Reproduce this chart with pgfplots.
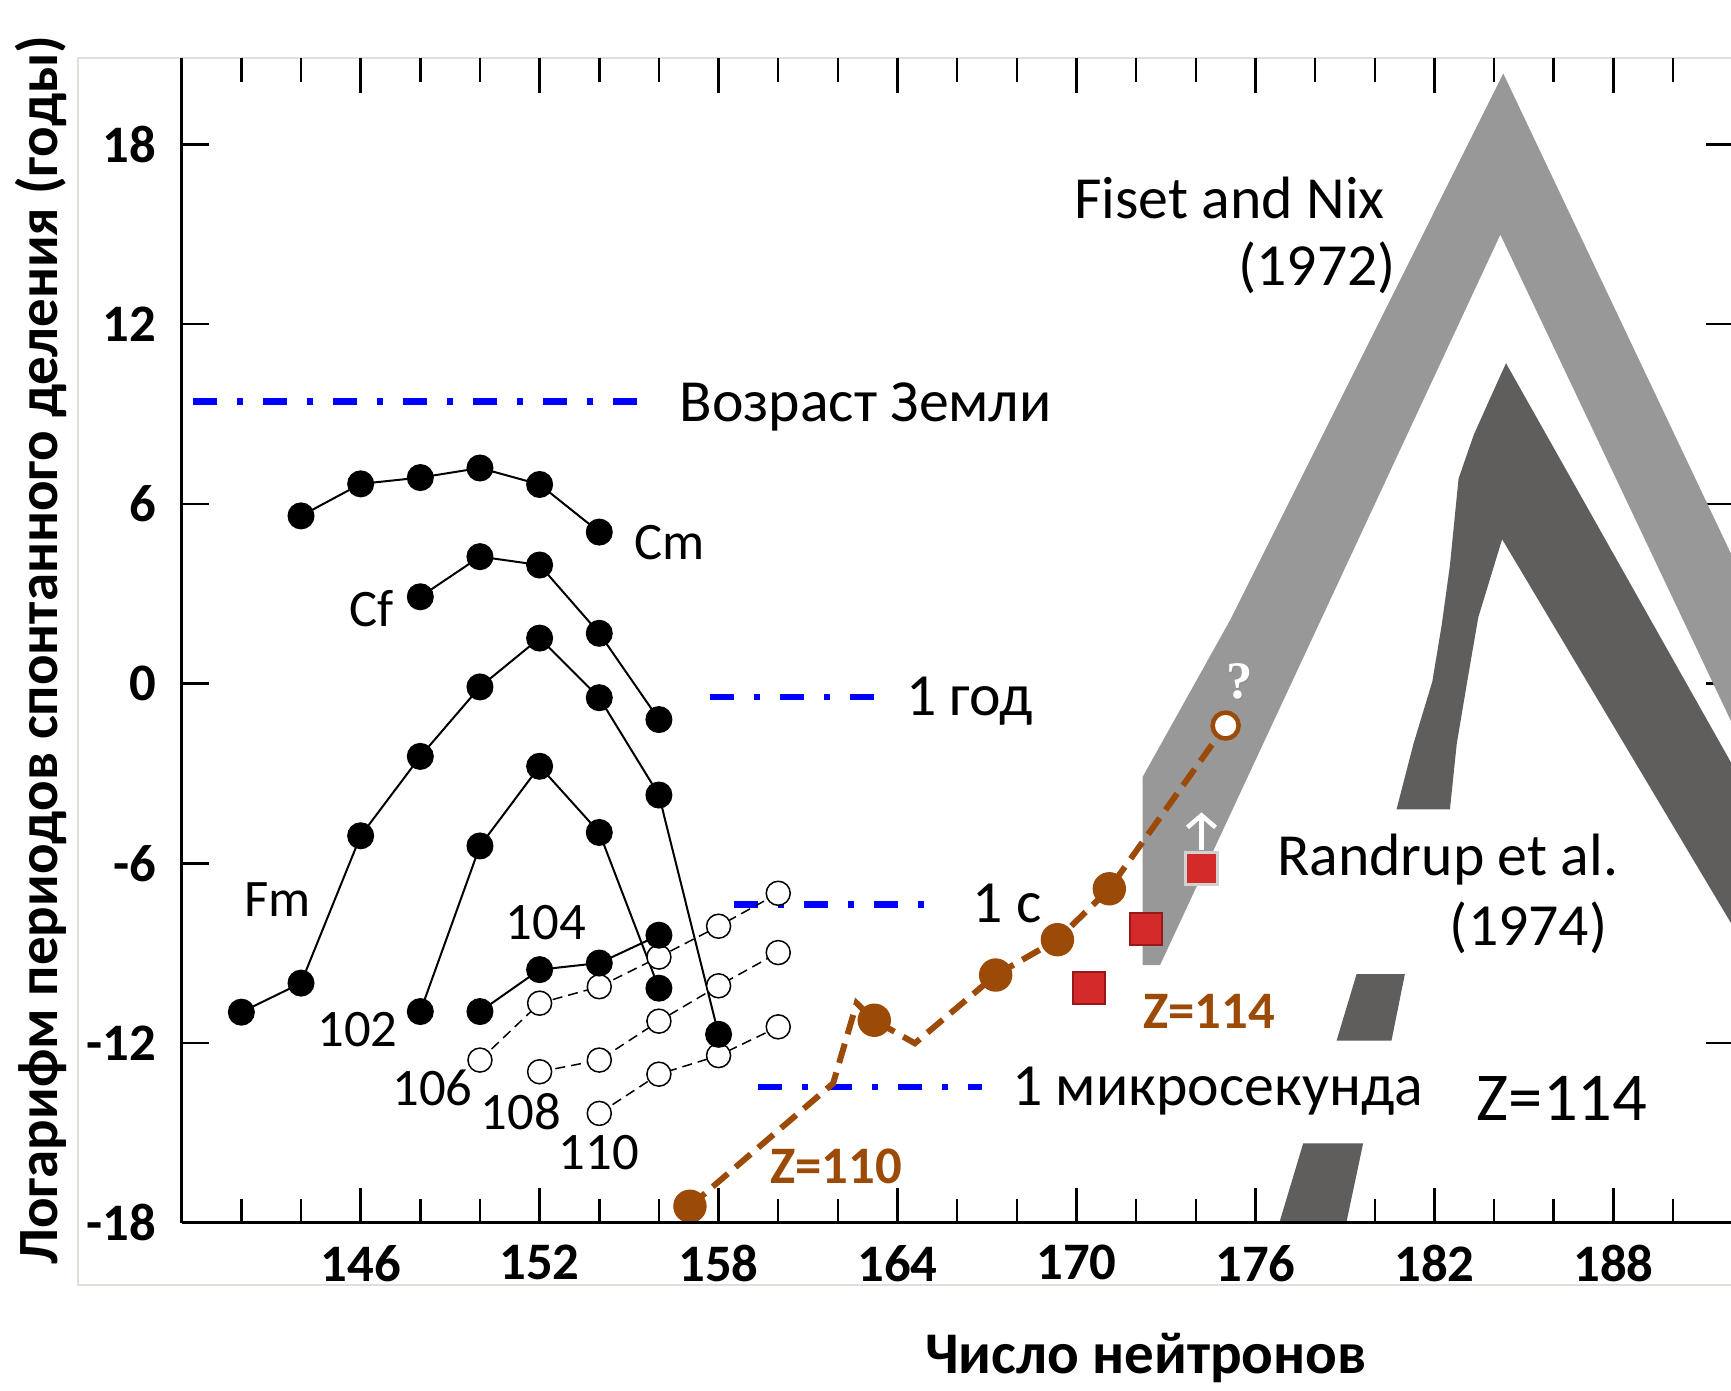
\documentclass[border=0pt]{standalone}
\usepackage{pgfplots}
\pgfplotsset{compat=1.18}
\usepackage{fontspec}
\setmainfont{Carlito}
\newfontfamily\qfont{Liberation Serif}
\usetikzlibrary{arrows.meta}
\definecolor{bandlight}{RGB}{152,152,152}
\definecolor{banddark}{RGB}{96,93,93}
\definecolor{brn}{RGB}{156,74,8}
\definecolor{sqred}{RGB}{212,42,42}
\definecolor{sqedge}{RGB}{150,25,25}
\definecolor{framec}{RGB}{226,224,214}
\newcommand{\fs}[1]{\fontsize{#1}{#1}\selectfont}
\begin{document}
\begin{tikzpicture}
\useasboundingbox (0,0) rectangle (17.31,13.90);
\draw[framec, line width=0.25mm] (0.78,1.05) rectangle (17.6,13.32);
\begin{axis}[
  at={(1.817cm,1.673cm)}, anchor=south west,
  scale only axis, width=15.51cm, height=11.65cm,
  xmin=140, xmax=192, ymin=-18, ymax=20.9,
  axis line style={draw=none},
  xtick={146,152,158,164,170,176,182,188},
  xticklabels={146,152,158,164,170,176,182,188},
  minor xtick={140,142,...,192},
  ytick=\empty,
  minor ytick={-15,-9,-3,3,9,15},
  extra y ticks={-18,-12,-6,0,6,12,18},
  extra y tick labels={-18,-12,-6,0,6,12,18},
  extra y tick style={major tick length=2.7mm},
  major tick length=3.5mm, minor tick length=2.4mm,
  tick style={black, line width=0.25mm},
  tick label style={font=\fs{15pt}\bfseries},
  xticklabel style={yshift=-1mm},
  yticklabel style={xshift=-1.3mm},
]
% Fiset and Nix band
\addplot[fill=bandlight, draw=none, forget plot] coordinates {(172.22,-3.11) (175.15,2.12) (184.31,20.37) (193,2.12) (193,-3.47) (184.21,14.99) (172.8,-9.4) (172.22,-9.4)};
% Randrup band
\addplot[fill=banddark, draw=none, forget plot] coordinates {(180.73,-4.2) (181.3,-2.0) (181.93,0.07) (182.25,2.0) (182.52,3.95) (182.81,6.85) (183.32,8.31) (183.9,9.6) (184.4,10.7) (193,-4.5) (193,-9.76) (184.27,4.82) (183.47,2.21) (183.1,0.07) (182.75,-2.0) (182.52,-4.2)};
\addplot[fill=banddark, draw=none, forget plot] coordinates {(179.39,-9.7) (181.01,-9.7) (180.56,-11.92) (178.72,-11.92)};
\addplot[fill=banddark, draw=none, forget plot] coordinates {(177.6,-15.35) (179.61,-15.35) (178.94,-18.5) (176.65,-18.5)};
% blue reference lines
\addplot[blue, line width=0.67mm, dash pattern=on 2.4mm off 2mm on 0.6mm off 2mm] coordinates {(140.38,9.42) (155.56,9.42)};
\addplot[blue, line width=0.67mm, dash pattern=on 2.4mm off 2mm on 0.6mm off 2mm] coordinates {(157.7,-0.45) (163.4,-0.45)};
\addplot[blue, line width=0.67mm, dash pattern=on 2.4mm off 2mm on 0.6mm off 2mm] coordinates {(158.52,-7.38) (165.29,-7.38)};
\addplot[blue, line width=0.67mm, dash pattern=on 2.4mm off 2mm on 0.6mm off 2mm] coordinates {(159.33,-13.47) (166.82,-13.47)};
% open-circle series (dashed)
\addplot[black, line width=0.15mm, dash pattern=on 1mm off 0.6mm, mark=*, mark size=1.2mm, mark options={solid, fill=white, draw=black, line width=0.15mm}] coordinates {(150,-12.57) (152,-10.67) (154,-10.12) (156,-9.13) (158,-8.1) (160,-7.0)};
\addplot[black, line width=0.15mm, dash pattern=on 1mm off 0.6mm, mark=*, mark size=1.2mm, mark options={solid, fill=white, draw=black, line width=0.15mm}] coordinates {(152,-12.96) (154,-12.57) (156,-11.27) (158,-10.09) (160,-8.98)};
\addplot[black, line width=0.15mm, dash pattern=on 1mm off 0.6mm, mark=*, mark size=1.2mm, mark options={solid, fill=white, draw=black, line width=0.15mm}] coordinates {(154,-14.35) (156,-13.04) (158,-12.42) (160,-11.46)};
% filled series
\addplot[black, line width=0.2mm, mark=*, mark size=1.25mm, mark options={fill=black}] coordinates {(144,5.6) (146,6.67) (148,6.88) (150,7.2) (152,6.65) (154,5.06)};
\addplot[black, line width=0.2mm, mark=*, mark size=1.25mm, mark options={fill=black}] coordinates {(148,2.9) (150,4.24) (152,3.96) (154,1.68) (156,-1.2)};
\addplot[black, line width=0.2mm, mark=*, mark size=1.25mm, mark options={fill=black}] coordinates {(142,-10.97) (144,-10.0) (146,-5.08) (148,-2.43) (150,-0.11) (152,1.52) (154,-0.47) (156,-3.72) (158,-11.71)};
\addplot[black, line width=0.2mm, mark=*, mark size=1.25mm, mark options={fill=black}] coordinates {(148,-10.95) (150,-5.42) (152,-2.76) (154,-4.97) (156,-10.17)};
\addplot[black, line width=0.2mm, mark=*, mark size=1.25mm, mark options={fill=black}] coordinates {(150,-10.95) (152,-9.55) (154,-9.33) (156,-8.4)};
% Z=110 / Z=114 experimental line
\addplot[brn, line width=0.6mm, dash pattern=on 2mm off 1mm] coordinates {(157.04,-17.45) (161.84,-13.35) (162.63,-10.67) (163.22,-11.24) (164.58,-12.01) (167.29,-9.73) (169.36,-8.55) (171.1,-6.85) (175.0,-1.4)};
\addplot[only marks, mark=*, mark size=1.6mm, mark options={fill=brn, draw=brn}] coordinates {(157.04,-17.45) (163.22,-11.24) (167.29,-9.73) (169.36,-8.55) (171.1,-6.85)};
\addplot[only marks, mark=*, mark size=1.3mm, mark options={fill=white, draw=brn, line width=0.45mm}] coordinates {(175.0,-1.4)};
% Randrup squares
\addplot[only marks, mark=square*, mark size=1.6mm, mark options={fill=sqred, draw=sqedge, line width=0.2mm}] coordinates {(170.43,-10.17) (172.33,-8.2)};
\addplot[only marks, mark=square*, mark size=1.6mm, mark options={fill=sqred, draw=gray!35, line width=0.35mm}] coordinates {(174.19,-6.17)};
\draw[white, line width=0.45mm, -{Straight Barb[length=1.2mm, width=2.8mm]}] (axis cs:174.19,-5.55) -- (axis cs:174.19,-4.3);
\node[text=black!45, font=\qfont\bfseries\fs{15pt}, anchor=base, inner sep=0] at ([xshift=0.2pt,yshift=-0.3pt]axis cs:175.48,-0.49) {?};
\node[text=white, font=\qfont\bfseries\fs{15pt}, anchor=base, inner sep=0] at (axis cs:175.48,-0.49) {?};
% labels
\begin{scope}[every node/.style={inner sep=0, font=\fs{15pt}}]
\node[anchor=base west] at (axis cs:155.15,4.15) {Cm};
\node[anchor=base west] at (axis cs:145.6,1.9) {Cf};
\node[anchor=base west] at (axis cs:142.07,-7.78) {Fm};
\node[anchor=base west] at (axis cs:144.53,-12.12) {102};
\node[anchor=base west] at (axis cs:150.84,-8.56) {104};
\node[anchor=base west] at (axis cs:147.04,-14.07) {106};
\node[anchor=base west] at (axis cs:150.0,-14.9) {108};
\node[anchor=base west] at (axis cs:152.62,-16.24) {110};
\end{scope}
\begin{scope}[every node/.style={inner sep=0, font=\fs{17pt}}]
\node[anchor=base west] at (axis cs:156.67,8.74) {Возраст Земли};
\node[anchor=base west] at (axis cs:164.26,-1.06) {1 год};
\node[anchor=base west] at (axis cs:166.48,-7.99) {1 с};
\node[anchor=base west] at (axis cs:167.82,-14.1) {1 микросекунда};
\node[anchor=base east] at (axis cs:180.36,15.52) {Fiset and Nix};
\node[anchor=base east] at (axis cs:180.73,13.31) {(1972)};
\node[anchor=base west] at (axis cs:176.7,-6.39) {Randrup et al.};
\node[anchor=base east] at (axis cs:187.82,-8.73) {(1974)};
\end{scope}
\node[anchor=base west, inner sep=0, font=\fs{19.5pt}] at (axis cs:183.4,-14.6) {Z=114};
\node[anchor=base west, inner sep=0, font=\fs{15pt}\bfseries, text=brn] at (axis cs:159.71,-16.68) {Z=110};
\node[anchor=base west, inner sep=0, font=\fs{15pt}\bfseries, text=brn] at (axis cs:172.22,-11.5) {Z=114};
\end{axis}
\draw[black, line width=0.3mm] (1.817,1.673) -- (17.4,1.673);
\draw[black, line width=0.3mm] (1.817,1.673) -- (1.817,13.32);
\node[rotate=90, anchor=base, font=\fs{16.2pt}\bfseries, inner sep=0] at (0.574,7.40) {Логарифм периодов спонтанного деления (годы)};
\node[anchor=base, font=\fs{16.8pt}\bfseries, inner sep=0] at (11.46,0.17) {Число нейтронов};
\end{tikzpicture}
\end{document}
